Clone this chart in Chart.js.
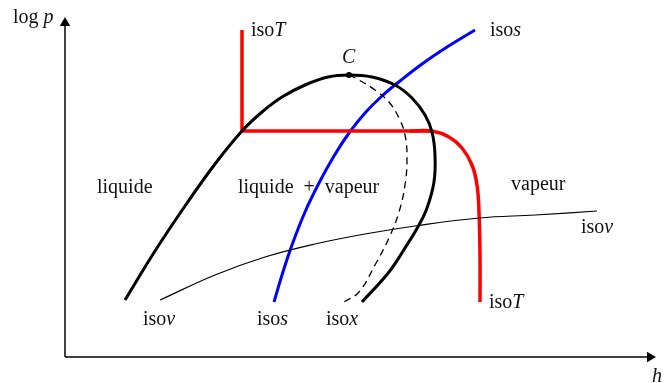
<!DOCTYPE html>
<html>
<head>
<meta charset="utf-8">
<script src="https://cdn.jsdelivr.net/npm/chart.js@4/dist/chart.umd.min.js"></script>
<style>
  html, body { margin: 0; padding: 0; background: #fff; }
  #diagram { display: block; }
</style>
</head>
<body>
<canvas id="diagram" width="669" height="383"></canvas>
<script>
// p-h diagram, arbitrary units (h across, log p up), origin at the axes corner
const domeCurve = [
  [60, 57], [90, 106], [120, 151], [150, 193], [177, 226], [197, 245], [217, 260],
  [240, 272], [263, 280], [284, 282], [307, 280], [330, 272], [347, 259], [360, 242],
  [367, 225], [370, 202], [369, 175], [362, 149], [354, 132], [340, 109], [324, 85],
  [297, 55]
];
const isoxCurve = [
  [284, 282], [294, 277], [310, 267], [324, 255], [334, 239], [340, 222], [342, 199],
  [340, 172], [334, 145], [324, 119], [310, 92], [294, 65], [279, 55]
];
const isoTStraight = [[177, 327], [177, 226], [367, 226]];
const isoTVapour = [
  [345, 226], [367, 226], [384, 220], [397, 209], [407, 192], [412, 172], [414, 145],
  [415, 100], [415, 55]
];
const isosCurve = [
  [209, 55], [217, 82], [227, 112], [240, 145], [254, 174], [269, 201], [284, 224],
  [300, 244], [317, 261], [335, 276], [357, 293], [382, 310], [410, 327]
];
const isovCurve = [
  [95, 57], [150, 82], [200, 100], [250, 113], [300, 123], [350, 131], [414, 139],
  [470, 142], [532, 146]
];
const criticalPoint = [[284, 282]];
const hAxis = [[0, 0], [585, 0]];
const pAxis = [[0, 0], [0, 334]];

// labels: parts are [text, italic?], anchored at left / baseline
const labels = [
  { at: [-52, 334], parts: [['log ', false], ['p', true]] },
  { at: [186, 321], parts: [['iso', false], ['T', true]] },
  { at: [277, 294], parts: [['C', true]] },
  { at: [425, 321], parts: [['iso', false], ['s', true]] },
  { at: [32, 164], parts: [['liquide', false]] },
  { at: [173, 164], parts: [['liquide\u2002+\u2002vapeur', false]] },
  { at: [446, 167], parts: [['vapeur', false]] },
  { at: [516, 124], parts: [['iso', false], ['v', true]] },
  { at: [424, 49], parts: [['iso', false], ['T', true]] },
  { at: [78, 32], parts: [['iso', false], ['v', true]] },
  { at: [192, 32], parts: [['iso', false], ['s', true]] },
  { at: [261, 32], parts: [['iso', false], ['x', true]] },
  { at: [587, -25], parts: [['h', true]] }
];

const pts = arr => arr.map(([x, y]) => ({ x, y }));

const curve = (data, color, width, extra) => Object.assign({
  data: pts(data), borderColor: color, borderWidth: width,
  pointRadius: 0, tension: 0.4, fill: false, borderCapStyle: 'butt'
}, extra || {});

const labelPlugin = {
  id: 'labels',
  afterDatasetsDraw(chart) {
    const { ctx, scales: { x, y } } = chart;
    ctx.save();
    ctx.fillStyle = '#111';
    ctx.textBaseline = 'alphabetic';
    labels.forEach(l => {
      let px = x.getPixelForValue(l.at[0]);
      const py = y.getPixelForValue(l.at[1]);
      l.parts.forEach(([t, it]) => {
        ctx.font = (it ? 'italic ' : '') + '20px "Liberation Serif", serif';
        ctx.fillText(t, px, py);
        px += ctx.measureText(t).width;
      });
    });
    ctx.restore();
  }
};

new Chart(document.getElementById('diagram'), {
  type: 'line',
  data: {
    datasets: [
      curve(hAxis, '#000', 1.5, { tension: 0, pointRadius: [0, 6], pointStyle: 'triangle',
        rotation: [0, 90], pointBackgroundColor: '#000', pointBorderWidth: 0 }),
      curve(pAxis, '#000', 1.5, { tension: 0, pointRadius: [0, 6], pointStyle: 'triangle',
        rotation: 0, pointBackgroundColor: '#000', pointBorderWidth: 0 }),
      curve(isovCurve, '#000', 1.2),
      curve(isoxCurve, '#000', 1.3, { borderDash: [7, 5] }),
      curve(domeCurve, '#000', 3),
      curve(isoTStraight, '#ff0000', 3.5, { tension: 0 }),
      curve(isoTVapour, '#ff0000', 3.5),
      curve(isosCurve, '#0000ff', 3),
      curve(criticalPoint, '#000', 0, { pointRadius: 3, pointBackgroundColor: '#000', pointBorderWidth: 0 })
    ]
  },
  options: {
    responsive: false,
    animation: false,
    devicePixelRatio: 1,
    layout: { padding: 0, autoPadding: false },
    plugins: { legend: { display: false }, tooltip: { enabled: false } },
    scales: {
      x: { type: 'linear', min: -65, max: 604, display: false },
      y: { type: 'linear', min: -26, max: 357, display: false }
    }
  },
  plugins: [labelPlugin]
});
</script>
</body>
</html>
